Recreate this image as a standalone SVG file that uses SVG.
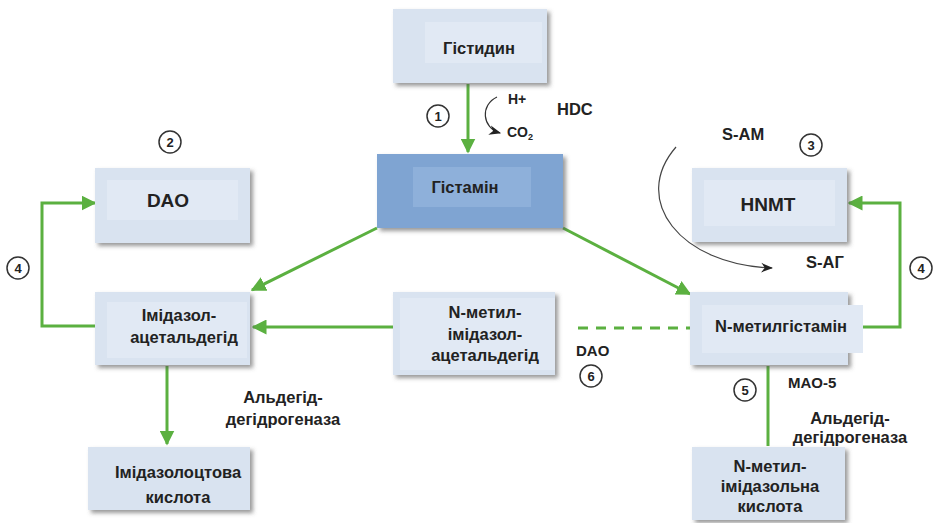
<svg xmlns="http://www.w3.org/2000/svg" width="937" height="523" viewBox="0 0 937 523">
<style>
.box{fill:#d9e3f0;filter:url(#sh)}
.inner{fill:#e1e9f4}
.t{font-family:"Liberation Sans",Arial,sans-serif;font-weight:bold;font-size:16.5px;fill:#222;text-anchor:middle}
.lbl{font-family:"Liberation Sans",Arial,sans-serif;font-weight:bold;font-size:16.5px;fill:#222}
.s{font-family:"Liberation Sans",Arial,sans-serif;font-weight:bold;font-size:14px;fill:#222}
.g{stroke:#5bb040;stroke-width:3;fill:none}
.num{fill:#fff;stroke:#333;stroke-width:1.5}
.n{font-family:"Liberation Sans",Arial,sans-serif;font-weight:bold;font-size:13px;fill:#222;text-anchor:middle}
</style>
<defs>
<filter id="sh" x="-10%" y="-10%" width="130%" height="130%">
<feDropShadow dx="3" dy="3" stdDeviation="2" flood-color="#555" flood-opacity="0.6"/>
</filter>
<marker id="ag" viewBox="0 0 10 10" refX="9" refY="5" markerWidth="5" markerHeight="5" orient="auto" markerUnits="strokeWidth">
<path d="M0,0 L10,5 L0,10 z" fill="#5bb040"/>
</marker>
<marker id="ak" viewBox="0 0 10 10" refX="9" refY="5" markerWidth="12" markerHeight="12" orient="auto" markerUnits="userSpaceOnUse">
<path d="M0,1 L10,5 L0,9 L3,5 z" fill="#222"/>
</marker>
</defs>

<g id="connectors">
<line class="g" x1="468" y1="84" x2="468" y2="152" marker-end="url(#ag)"/>
<line class="g" x1="377" y1="228" x2="252" y2="290" marker-end="url(#ag)"/>
<line class="g" x1="563" y1="228" x2="690" y2="294" marker-end="url(#ag)"/>
<polyline class="g" points="95,326 42,326 42,203 95,203" marker-end="url(#ag)"/>
<polyline class="g" points="863,327 900,327 900,203 849,203" marker-end="url(#ag)"/>
<line class="g" x1="393" y1="327" x2="253" y2="327" marker-end="url(#ag)"/>
<line class="g" x1="578" y1="328" x2="690" y2="328" stroke-dasharray="10,8"/>
<line class="g" x1="167" y1="366" x2="167" y2="444" marker-end="url(#ag)"/>
<line class="g" x1="768" y1="366" x2="768" y2="446"/>
<path d="M497,97 C480,105 482,128 500,133" fill="none" stroke="#333" stroke-width="1.2" marker-end="url(#ak)"/>
<path d="M676,147 C630,200 680,265 772,268" fill="none" stroke="#444" stroke-width="1.2" marker-end="url(#ak)"/>
</g>

<g id="histidine">
<rect class="box" x="393" y="9" width="154" height="74"/>
<rect class="inner" x="425" y="22" width="117" height="41"/>
<text class="t" x="479" y="54">Гістидин</text>
</g>

<g id="histamine">
<rect x="377" y="154" width="186" height="74" fill="#7fa4d2" filter="url(#sh)"/>
<rect x="413" y="167" width="118" height="40" fill="#8eb0da"/>
<text class="t" x="465" y="193">Гістамін</text>
</g>

<g id="dao">
<rect class="box" x="95" y="168" width="155" height="75"/>
<rect class="inner" x="107" y="180" width="131" height="40"/>
<text class="t" x="168" y="207" style="font-size:19px">DAO</text>
</g>

<g id="hnmt">
<rect class="box" x="692" y="168" width="155" height="74"/>
<rect class="inner" x="704" y="180" width="131" height="46"/>
<text class="t" x="768" y="211" style="font-size:19px">HNMT</text>
</g>

<g id="imidazole-acetaldehyde">
<rect class="box" x="95" y="292" width="155" height="73"/>
<rect class="inner" x="107" y="302" width="140" height="56"/>
<text class="t" x="179" y="321">Імідазол-</text>
<text class="t" x="184" y="343">ацетальдегід</text>
</g>

<g id="n-methyl-imidazole-acetaldehyde">
<rect class="box" x="393" y="292" width="162" height="83"/>
<rect class="inner" x="400" y="298" width="155" height="72"/>
<text class="t" x="485" y="318">N-метил-</text>
<text class="t" x="485" y="340">імідазол-</text>
<text class="t" x="485" y="361">ацетальдегід</text>
</g>

<g id="n-methylhistamine">
<rect class="box" x="690" y="292" width="158" height="73"/>
<rect class="inner" x="702" y="305" width="161" height="48"/>
<text class="t" x="781" y="332">N-метилгістамін</text>
</g>

<g id="imidazoleacetic-acid">
<rect class="box" x="88" y="447" width="162" height="63"/>
<text class="t" x="178" y="478">Імідазолоцтова</text>
<text class="t" x="178" y="503">кислота</text>
</g>

<g id="n-methylimidazoleacetic-acid">
<rect class="box" x="692" y="447" width="153" height="73"/>
<text class="t" x="770" y="472">N-метил-</text>
<text class="t" x="770" y="492">імідазольна</text>
<text class="t" x="770" y="512">кислота</text>
</g>

<g id="labels">
<text class="s" x="508" y="104">H+</text>
<text class="s" x="507" y="137">CO<tspan style="font-size:9px" dy="3">2</tspan></text>
<text class="lbl" x="557" y="115">HDC</text>
<text class="lbl" x="722" y="140">S-AM</text>
<text class="lbl" x="806" y="268">S-AГ</text>
<text class="t" x="283" y="403">Альдегід-</text>
<text class="t" x="283" y="425">дегідрогеназа</text>
<text class="s" x="788" y="388" style="font-size:15px">MAO-5</text>
<text class="t" x="850" y="424">Альдегід-</text>
<text class="t" x="850" y="443">дегідрогеназа</text>
<text class="s" x="576" y="356" style="font-size:15px">DAO</text>
</g>

<g id="numbers">
<circle class="num" cx="438" cy="116" r="11"/><text class="n" x="438" y="121">1</text>
<circle class="num" cx="170" cy="142" r="11"/><text class="n" x="170" y="147">2</text>
<circle class="num" cx="811" cy="145" r="11"/><text class="n" x="811" y="150">3</text>
<circle class="num" cx="18" cy="268" r="11"/><text class="n" x="18" y="273">4</text>
<circle class="num" cx="921" cy="268" r="11"/><text class="n" x="921" y="273">4</text>
<circle class="num" cx="745" cy="390" r="11"/><text class="n" x="745" y="395">5</text>
<circle class="num" cx="591" cy="376" r="11"/><text class="n" x="591" y="381">6</text>
</g>
</svg>
